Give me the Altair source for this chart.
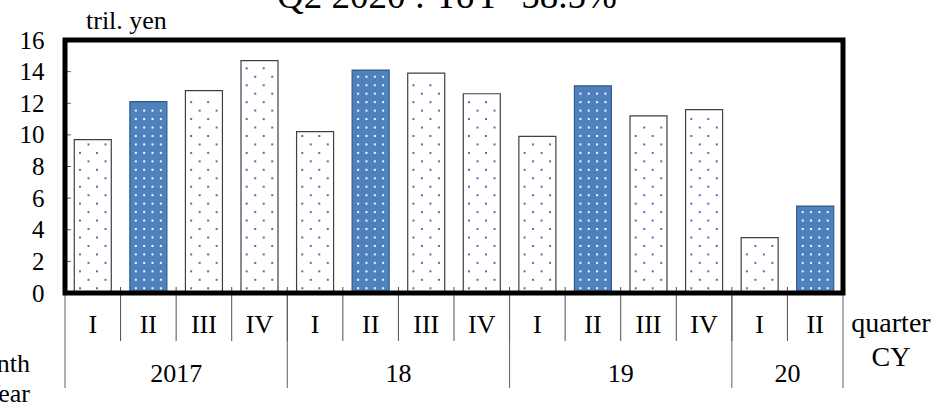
import altair as alt
import pandas as pd

# Quarterly amounts (tril. yen), CY2017 Q1 - CY2020 Q2
quarters = ["I", "II", "III", "IV", "I", "II", "III", "IV",
            "I", "II", "III", "IV", "I", "II"]
values = [9.7, 12.1, 12.8, 14.7, 10.2, 14.1, 13.9, 12.6,
          9.9, 13.1, 11.2, 11.6, 3.5, 5.5]
year_labels = ["2017", "18", "19", "20"]
year_first = [0, 4, 8, 12]
year_last = [3, 7, 11, 13]
highlight_quarter = "II"
y_ticks = [0, 2, 4, 6, 8, 10, 12, 14, 16]
title_text = "Q2 2020 : YoY -58.5%"

W, H = 778, 253
FONT = "Liberation Serif"
BLUE = "#4F81BD"
HALF = 0.333          # half bar width in category units
ROW = 0.535           # dot row spacing in y units

bars = pd.DataFrame({
    "idx": list(range(len(values))),
    "quarter": quarters,
    "value": values,
})
bars["hl"] = bars["quarter"] == highlight_quarter

# dotted texture inside each bar
dots = []
for i, (q, v) in enumerate(zip(quarters, values)):
    hl = q == highlight_quarter
    y = 0.3
    r = 0
    while y < v - 0.25:
        if hl:
            cols = [-0.225, -0.075, 0.075, 0.225]
        else:
            cols = [-0.23, 0.076] if r % 2 == 0 else [-0.077, 0.229]
        for c in cols:
            dots.append({"x": i + c, "y": y, "hl": hl})
        y += ROW
        r += 1
dots = pd.DataFrame(dots)

xs = alt.Scale(domain=[-0.5, len(values) - 0.5], nice=False, zero=False)
ys = alt.Scale(domain=[0, 16], nice=False)
y_axis = alt.Axis(
    values=y_ticks, ticks=False, domain=False, grid=False,
    labelOverlap=False, labelFont=FONT, labelFontSize=25,
    labelColor="black", labelPadding=21, title=None)

bar_layer = alt.Chart(bars).transform_calculate(
    lo=f"datum.idx - {HALF}", hi=f"datum.idx + {HALF}"
).mark_rect(strokeWidth=1.2).encode(
    x=alt.X("lo:Q", scale=xs, axis=None),
    x2="hi:Q",
    y=alt.Y("value:Q", scale=ys, axis=y_axis),
    y2=alt.datum(0),
    fill=alt.condition("datum.hl", alt.value(BLUE), alt.value("white")),
    stroke=alt.condition("datum.hl", alt.value("#2F5A8C"), alt.value("#404040")),
)

dot_layer = alt.Chart(dots).mark_square(size=4, opacity=0.95).encode(
    x=alt.X("x:Q", scale=xs, axis=None),
    y=alt.Y("y:Q", scale=ys, axis=y_axis),
    color=alt.condition("datum.hl", alt.value("white"), alt.value("#3C6EB4")),
)

tick_df = pd.DataFrame({"t": y_ticks[1:-1]})
ytick_layer = alt.Chart(tick_df).mark_rule(color="#606060").encode(
    x=alt.value(0), x2=alt.value(6), y=alt.Y("t:Q", scale=ys, axis=y_axis))

bounds = pd.DataFrame({"b": [i + 0.5 for i in range(len(values) - 1)]})
up_ticks = alt.Chart(bounds).mark_rule(color="#505050").encode(
    x=alt.X("b:Q", scale=xs, axis=None), y=alt.value(H - 6), y2=alt.value(H))
q_sep = alt.Chart(bounds).mark_rule(color="#505050").encode(
    x=alt.X("b:Q", scale=xs, axis=None), y=alt.value(H + 2), y2=alt.value(H + 48))

year_df = pd.DataFrame({
    "label": year_labels,
    "first": year_first,
    "last": year_last,
})
year_df["mid"] = (year_df["first"] + year_df["last"]) / 2
yb = sorted(set([f - 0.5 for f in year_first] + [l + 0.5 for l in year_last]))
y_sep = alt.Chart(pd.DataFrame({"b": yb})).mark_rule(color="#606060").encode(
    x=alt.X("b:Q", scale=xs, axis=None), y=alt.value(H + 2), y2=alt.value(H + 95))

q_text = alt.Chart(bars).mark_text(
    font=FONT, fontSize=26, baseline="alphabetic", color="black"
).encode(x=alt.X("idx:Q", scale=xs, axis=None), y=alt.value(H + 40),
         text="quarter:N")

y_text = alt.Chart(year_df).mark_text(
    font=FONT, fontSize=26, baseline="alphabetic", color="black"
).encode(x=alt.X("mid:Q", scale=xs, axis=None), y=alt.value(H + 89),
         text="label:N")


def label(txt, x, y, size=26, align="left"):
    return alt.Chart(alt.Data(values=[{"t": txt}])).mark_text(
        font=FONT, fontSize=size, align=align, baseline="alphabetic",
        color="black"
    ).encode(x=alt.value(x), y=alt.value(y), text="t:N")


title_layer = label(title_text, 382, -32, size=37, align="center")
unit_layer = label("tril. yen", 21, -11, size=26)
quarter_layer = label("quarter", 826, H + 39, size=28, align="center")
cy_layer = label("CY", 826, H + 73, size=28, align="center")
month_layer = label("Month", -35, H + 79, align="right")
year_layer = label("Year", -35, H + 109, align="right")

frame = alt.Chart(alt.Data(values=[{}])).mark_rect(
    fill=None, stroke="black", strokeWidth=5
).encode(x=alt.value(0), x2=alt.value(W), y=alt.value(0), y2=alt.value(H))

chart = alt.layer(
    bar_layer, dot_layer, ytick_layer, up_ticks, q_sep, y_sep,
    q_text, y_text, title_layer, unit_layer, quarter_layer, cy_layer,
    month_layer, year_layer, frame,
).properties(
    width=W, height=H,
    autosize=alt.AutoSizeParams(type="none"),
    padding={"left": 65, "top": 40, "right": 93, "bottom": 111},
).configure_view(stroke=None).configure_axis(
    labelOverlap=False
).configure(background="white")

chart.save("out.html", embed_options={"renderer": "svg", "actions": False})
